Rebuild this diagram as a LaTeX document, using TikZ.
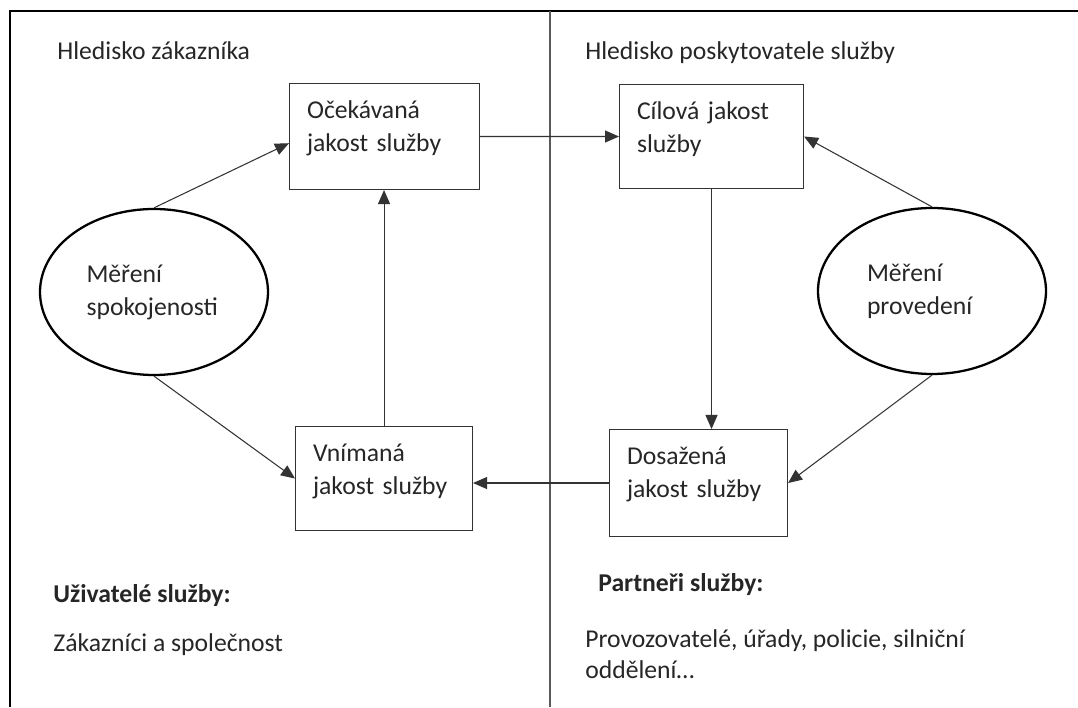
\documentclass[tikz,border=0pt]{standalone}
\usepackage{fontspec}
\setmainfont{Carlito}
\usepackage{tikz}
\usetikzlibrary{arrows.meta,shapes.geometric,positioning}
\tikzset{
  kvalita/.style={draw=black!80,line width=0.6pt,anchor=north west,align=left,
    inner xsep=0.35cm,inner ysep=0pt,text height=0.7cm},
  mereni/.style={ellipse,draw=black,line width=1.3pt,align=left,
    minimum width=4.56cm,minimum height=3.32cm,inner sep=0pt},
  sipka/.style={-{Triangle[length=0.28cm,width=0.24cm]},black!80,line width=0.6pt},
  popis/.style={anchor=base west,inner sep=0pt},
  ramec/.style={black,line width=1.4pt}
}

\begin{document}
\begin{tikzpicture}[font=\fontsize{14.6pt}{18.8pt}\selectfont,text=black!85]
\useasboundingbox (0,0) rectangle (21.56,14.14);
% ramecek a deleni
\draw[ramec] (0.2,0) -- (0.2,13.92) -- (21.56,13.92);
\draw[gray!70!black,line width=0.6pt] (11.0,13.92) -- (11.0,0);
% hlediska
\node[popis] (hz) at (1.14,12.94) {Hledisko zákazníka};
\node[popis] (hp) at (11.7,12.94) {Hledisko poskytovatele služby};
% jakost sluzby
\node[kvalita,text width=3.1cm,text depth=1.42cm] (oc) at (5.78,12.48) {Očekávaná\\jakost služby};
\node[kvalita,text width=2.98cm,text depth=1.38cm] (cil) at (12.38,12.46) {Cílová jakost\\služby};
\node[kvalita,text width=2.84cm,text depth=1.38cm] (vn) at (5.9,5.62) {Vnímaná\\jakost služby};
\node[kvalita,text width=2.86cm,text depth=1.44cm] (dos) at (12.18,5.56) {Dosažená\\jakost služby};
% mereni
\node[mereni,text width=2.7cm] (spok) at (3.08,8.3) {Měření\\spokojenosti};
\node[mereni,text width=2.6cm] (prov) at (18.64,8.32) {Měření\\provedení};
% sipky
\draw[sipka] (spok.north) -- (oc.184);
\draw[sipka] (spok.south) -- (vn.west);
\draw[sipka] (vn.north) -- (vn.north |- oc.south);
\draw[sipka] (oc.east) -- (cil.west);
\draw[sipka] (cil.south) -- (cil.south |- dos.north);
\draw[sipka] (dos.west) -- (dos.west -| vn.east);
\draw[sipka] (prov.north) -- (cil.east);
\draw[sipka] (prov.south) -- (dos.east);
% uzivatele a partneri
\node[popis] (uziv) at (1.06,2.1) {\textbf{Uživatelé služby:}};
\node[popis] (zak) at (1.06,1.1) {Zákazníci a společnost};
\node[popis] (part) at (11.96,2.3) {\textbf{Partneři služby:}};
\node[popis] (provoz) at (11.7,1.2) {Provozovatelé, úřady, policie, silniční};
\node[popis] (odd) at (11.7,0.58) {oddělení…};
\end{tikzpicture}
\end{document}
